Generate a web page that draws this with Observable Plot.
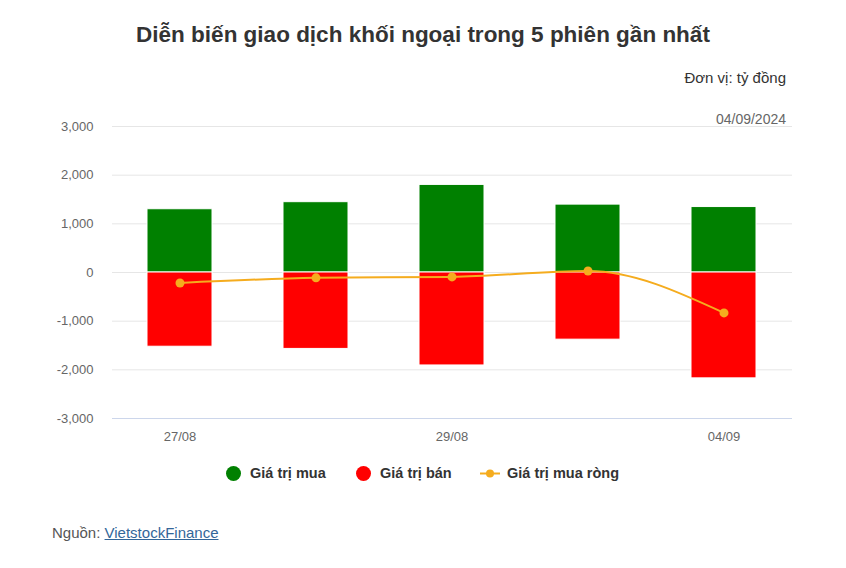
<!DOCTYPE html>
<html>
<head>
<meta charset="utf-8">
<script src="https://cdn.jsdelivr.net/npm/d3@7"></script>
<script src="https://cdn.jsdelivr.net/npm/@observablehq/plot@0.6"></script>
<style>
  html, body { margin: 0; padding: 0; background: #fff; }
  body { width: 846px; height: 568px; position: relative; overflow: hidden; font-family: "Liberation Sans", Arial, sans-serif; }
  .abs { position: absolute; white-space: nowrap; }
  #title { left: 0; width: 846px; top: 22px; text-align: center; font-size: 22.5px; font-weight: bold; color: #333; }
  #unit { right: 60px; top: 69px; font-size: 15px; color: #333; }
  #date { right: 60px; top: 111px; font-size: 14px; color: #666; }
  #chart { position: absolute; left: 0; top: 100px; }
  .leg { position: absolute; top: 465px; font-size: 14.5px; font-weight: bold; color: #333; display: flex; align-items: center; }
  .sw { display: inline-block; width: 15px; height: 15px; border-radius: 50%; margin-right: 9px; }
  #source { left: 52px; top: 524px; font-size: 15px; color: #555; }
  #source a { color: #336699; text-decoration: underline; }
</style>
</head>
<body>
<div id="title" class="abs">Diễn biến giao dịch khối ngoại trong 5 phiên gần nhất</div>
<div id="unit" class="abs">Đơn vị: tỷ đồng</div>
<div id="date" class="abs">04/09/2024</div>
<div id="chart"></div>
<div class="leg" style="left:226px"><span class="sw" style="background:#008000"></span>Giá trị mua</div>
<div class="leg" style="left:356px"><span class="sw" style="background:#ff0000"></span>Giá trị bán</div>
<div class="leg" style="left:480px"><svg width="20" height="15" style="margin-right:7px"><line x1="0" y1="7.5" x2="20" y2="7.5" stroke="#f5ac1e" stroke-width="2"/><circle cx="10" cy="7.5" r="4" fill="#f5ac1e"/></svg>Giá trị mua ròng</div>
<div id="source" class="abs">Nguồn: <a>VietstockFinance</a></div>
<script>
const sessions = ["27/08", "28/08", "29/08", "30/08", "04/09"];
const buyValues = [1300, 1445, 1800, 1395, 1345];
const sellValues = [-1525, -1570, -1910, -1380, -2175];
const netValues = [-215, -110, -90, 30, -830];
const xTickLabels = ["27/08", "29/08", "04/09"];
const yTicks = [-3000, -2000, -1000, 0, 1000, 2000, 3000];

const rows = sessions.map((s, i) => ({session: s, buy: buyValues[i], sell: sellValues[i], net: netValues[i]}));
const fmt = d3.format(",");

const chart = Plot.plot({
  width: 846,
  height: 350,
  marginTop: 26,
  marginBottom: 32,
  marginLeft: 112,
  marginRight: 54,
  style: {fontFamily: "'Liberation Sans', Arial, sans-serif", fontSize: "13px", color: "#666", background: "transparent"},
  x: {domain: sessions, paddingInner: 0.52, paddingOuter: 0.26, label: null, ticks: xTickLabels, tickSize: 0, tickPadding: 13},
  y: {domain: [-3000, 3000], ticks: yTicks, label: null, tickSize: 0, tickPadding: 19, tickFormat: d => fmt(d).replace("−", "-")},
  marks: [
    Plot.gridY(yTicks, {stroke: "#e6e6e6", strokeOpacity: 1}),
    Plot.ruleY([-3000], {stroke: "#ccd6eb"}),
    Plot.barY(rows, {x: "session", y: "buy", fill: "#008000", stroke: "#fff", strokeWidth: 1}),
    Plot.barY(rows, {x: "session", y: "sell", fill: "#ff0000", stroke: "#fff", strokeWidth: 1}),
    Plot.line(rows, {x: "session", y: "net", stroke: "#f5ac1e", strokeWidth: 2, curve: "monotone-x"}),
    Plot.dot(rows, {x: "session", y: "net", fill: "#f5ac1e", r: 4.5})
  ]
});
document.getElementById("chart").appendChild(chart);
</script>
</body>
</html>
